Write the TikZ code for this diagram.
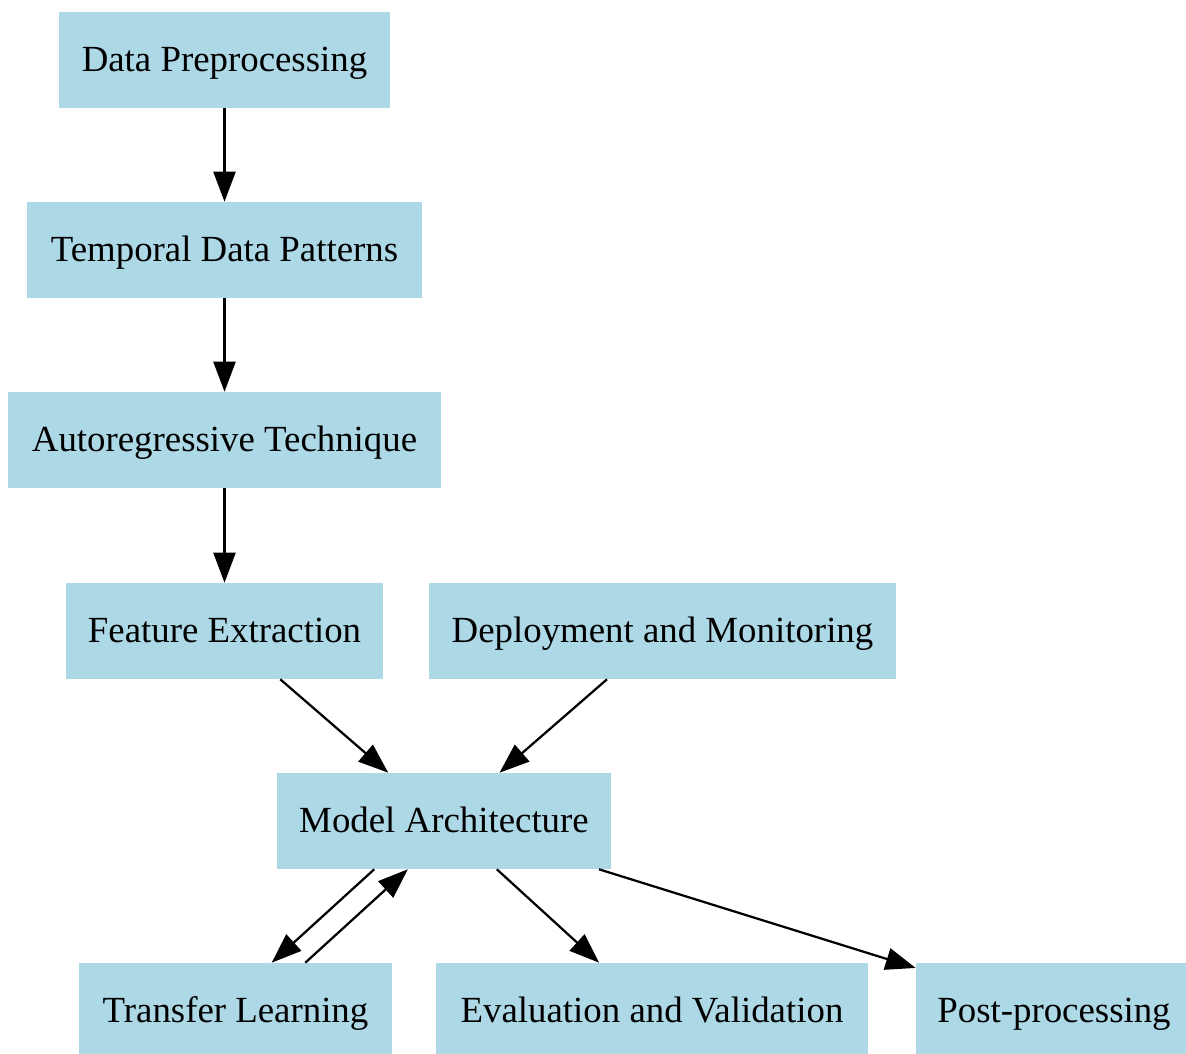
\documentclass[tikz,border=0pt]{standalone}
\usepackage{fontspec}
\setmainfont{Liberation Serif}
\usetikzlibrary{arrows.meta}
\definecolor{lightblue}{HTML}{ADD8E6}
\begin{document}
\begin{tikzpicture}[x=0.025cm,y=-0.025cm,
    stage/.style={rectangle,fill=lightblue,inner sep=0pt,minimum height=2.4cm,text height=0.86cm,text depth=0.3cm,font=\fontsize{26.2}{31}\selectfont},
    flow/.style={line width=1.6pt,-{Triangle[length=0.75cm,width=0.55cm]}}]
      \useasboundingbox (0,0) rectangle (1186,1054);%

      \node[stage,minimum width=8.28cm] (DP) at (224.5,60) {Data Preprocessing};%
      \node[stage,minimum width=9.88cm] (TDP) at (224.5,250) {Temporal Data Patterns};%
      \node[stage,minimum width=10.83cm] (AT) at (224.5,440) {Autoregressive Technique};%
      \node[stage,minimum width=7.93cm] (FE) at (224.5,631) {Feature Extraction};%
      \node[stage,minimum width=11.68cm] (DM) at (662.5,631) {Deployment and Monitoring};%
      \node[stage,minimum width=8.35cm] (MA) at (444,821) {Model Architecture};%
      \node[stage,minimum width=7.83cm] (TL) at (235.5,1011) {Transfer Learning};%
      \node[stage,minimum width=10.8cm] (EV) at (652,1011) {Evaluation and Validation};%
      \node[stage,minimum width=6.9cm] (PP) at (1054,1011) {Post-processing};%

      \draw[flow] (DP) -- (TDP);%
      \draw[flow] (TDP) -- (AT);%
      \draw[flow] (AT) -- (FE);%
      \draw[flow] (FE) -- (MA);%
      \draw[flow] (DM) -- (MA);%
      \draw[flow,transform canvas={xshift=-0.42cm}] (MA) -- (TL);%
      \draw[flow,transform canvas={xshift=0.42cm}] (TL) -- (MA);%
      \draw[flow] (MA) -- (EV);%
      \draw[flow] (MA) -- (PP);%
\end{tikzpicture}
\end{document}
